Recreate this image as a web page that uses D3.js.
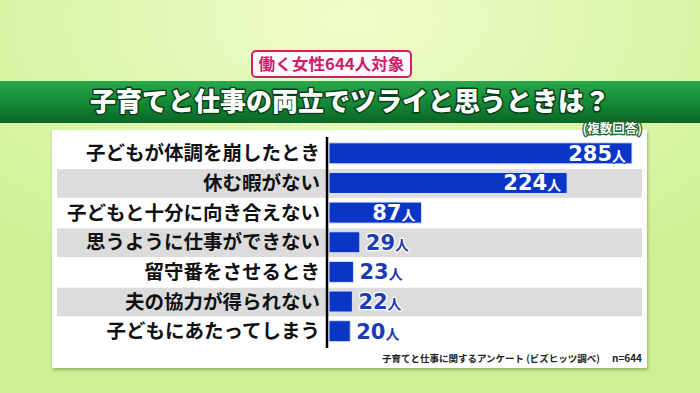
<!DOCTYPE html>
<html>
<head>
<meta charset="utf-8">
<script src="https://cdn.jsdelivr.net/npm/d3@7"></script>
<style>
  body { margin: 0; background: #d4f29c; }
  #chart { width: 700px; height: 393px; }
  text { font-family: "Noto Sans CJK JP", "Noto Sans", sans-serif; }
</style>
</head>
<body>
<div id="chart"></div>
<script>
var width = 700, height = 393

// data
var categories = ["子どもが体調を崩したとき", "休む暇がない", "子どもと十分に向き合えない",
    "思うように仕事ができない", "留守番をさせるとき", "夫の協力が得られない", "子どもにあたってしまう"]
var counts = [285, 224, 87, 29, 23, 22, 20]
var unit = "人"
var title = "子育てと仕事の両立でツライと思うときは？"
var badge = "働く女性644人対象"
var note = "(複数回答)"
var source = "子育てと仕事に関するアンケート (ビズヒッツ調べ)"
var sampleSize = "n=644"

var svg = d3.select("#chart").append("svg")
    .attr("width", width)
    .attr("height", height)
    .attr("display", "block")

var defs = svg.append("defs")
var bg = defs.append("radialGradient").attr("id", "bg")
    .attr("cx", 0.5).attr("cy", 0.05).attr("r", 0.75)
bg.append("stop").attr("offset", "0%").attr("stop-color", "#f0fcca")
bg.append("stop").attr("offset", "100%").attr("stop-color", "#cdf194")

var band = defs.append("linearGradient").attr("id", "banner")
    .attr("x1", 0).attr("y1", 0).attr("x2", 0).attr("y2", 1)
band.append("stop").attr("offset", "0%").attr("stop-color", "#2aa84c")
band.append("stop").attr("offset", "45%").attr("stop-color", "#178d38")
band.append("stop").attr("offset", "100%").attr("stop-color", "#0b6526")

var shadow = defs.append("filter").attr("id", "shadow")
    .attr("x", "-5%").attr("y", "-5%").attr("width", "110%").attr("height", "115%")
shadow.append("feDropShadow").attr("dx", 1).attr("dy", 2).attr("stdDeviation", 1.5)
    .attr("flood-color", "#6f8a55").attr("flood-opacity", 0.6)

svg.append("rect").attr("width", width).attr("height", height).attr("fill", "url(#bg)")

// white panel
svg.append("rect")
    .attr("x", 52).attr("y", 130).attr("width", 595).attr("height", 238)
    .attr("fill", "#ffffff")
    .attr("filter", "url(#shadow)")

// banner
svg.append("rect")
    .attr("x", 0).attr("y", 81).attr("width", width).attr("height", 42)
    .attr("fill", "url(#banner)")
svg.append("text")
    .attr("x", 350).attr("y", 111)
    .attr("text-anchor", "middle")
    .attr("font-size", 26).attr("font-weight", 900)
    .attr("fill", "#ffffff")
    .attr("stroke", "#08401a").attr("stroke-width", 3)
    .attr("paint-order", "stroke")
    .attr("stroke-linejoin", "round")
    .text(title)

// badge
svg.append("rect")
    .attr("x", 252).attr("y", 51).attr("width", 159).attr("height", 26)
    .attr("rx", 4)
    .attr("fill", "#fffafc")
    .attr("stroke", "#cf2169").attr("stroke-width", 2)
svg.append("text")
    .attr("x", 331.5).attr("y", 70)
    .attr("text-anchor", "middle")
    .attr("font-size", 16).attr("font-weight", 700)
    .attr("fill", "#d01a6c")
    .attr("textLength", 146).attr("lengthAdjust", "spacingAndGlyphs")
    .text(badge)

svg.append("text")
    .attr("x", 642).attr("y", 133)
    .attr("text-anchor", "end")
    .attr("font-size", 12.5).attr("font-weight", 700)
    .attr("fill", "#ffffff")
    .attr("stroke", "#17652c").attr("stroke-width", 2.5)
    .attr("paint-order", "stroke")
    .text(note)

// scales
var yScale = d3.scaleBand()
    .domain(categories)
    .range([138.5, 346])
    .paddingInner(0)

var xScale = d3.scaleLinear()
    .domain([0, 285])
    .range([329, 632])

// zebra rows
svg.append("g").selectAll("rect")
    .data(categories.filter(function(c, i) { return i % 2 == 1 }))
    .enter().append("rect")
    .attr("x", 57)
    .attr("y", function(c) { return yScale(c) + 1 })
    .attr("width", 585)
    .attr("height", yScale.bandwidth() - 1)
    .attr("fill", "#dcdcdc")

// bars
var barH = 21
var bars = svg.append("g").selectAll("g")
    .data(counts)
    .enter().append("g")

bars.append("rect")
    .attr("x", xScale(0))
    .attr("y", function(d, i) { return yScale(categories[i]) + (yScale.bandwidth() - barH) / 2 })
    .attr("width", function(d) { return xScale(d) - xScale(0) })
    .attr("height", barH)
    .attr("fill", "#0a36c6")
    .attr("stroke", "#d8e2ff").attr("stroke-width", 1)

var labels = bars.append("text")
    .attr("x", function(d) { return d >= 80 ? xScale(d) - 6 : xScale(d) + 6 })
    .attr("y", function(d, i) { return yScale(categories[i]) + yScale.bandwidth() / 2 + 7.5 })
    .attr("text-anchor", function(d) { return d >= 80 ? "end" : "start" })
    .attr("font-weight", 700)
    .attr("fill", function(d) { return d >= 80 ? "#ffffff" : "#1d3cb4" })
    .attr("stroke", function(d) { return d >= 80 ? "#0a36c6" : "#ffffff" })
    .attr("stroke-width", 2.5)
    .attr("paint-order", "stroke")
    .attr("stroke-linejoin", "round")
labels.append("tspan")
    .attr("font-family", "'DejaVu Sans', sans-serif")
    .attr("font-size", 21)
    .text(function(d) { return d })
labels.append("tspan")
    .attr("font-size", 14)
    .text(unit)

// category axis
var yAxis = d3.axisLeft(yScale).tickSize(0).tickPadding(7)
var axisG = svg.append("g")
    .attr("transform", "translate(327,0)")
    .call(yAxis)
axisG.select(".domain")
    .attr("d", "M0,137V348")
    .attr("stroke", "#000")
    .attr("stroke-width", 2.5)
axisG.selectAll(".tick text")
    .attr("font-family", "'Noto Sans CJK JP', sans-serif")
    .attr("font-size", 19.5)
    .attr("font-weight", 700)
    .attr("fill", "#111")
    .attr("dy", "0.36em")

// source line
svg.append("text")
    .attr("x", 382).attr("y", 362)
    .attr("font-size", 9.5).attr("font-weight", 700)
    .attr("fill", "#222")
    .text(source)
svg.append("text")
    .attr("x", 642).attr("y", 362)
    .attr("text-anchor", "end")
    .attr("font-size", 10).attr("font-weight", 700)
    .attr("fill", "#222")
    .text(sampleSize)
</script>
</body>
</html>
